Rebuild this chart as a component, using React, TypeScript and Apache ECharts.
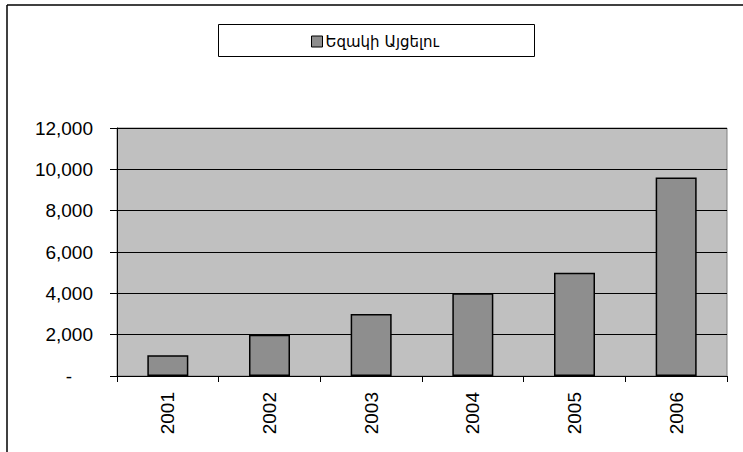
import React, { useEffect, useRef } from "react";
import * as echarts from "echarts";

const categories = ["2001", "2002", "2003", "2004", "2005", "2006"];
const visitors = [1000, 2000, 3000, 4000, 5000, 9600];
const seriesName = "Եզակի Այցելու";
const yMax = 12000;
const yInterval = 2000;

export default function App() {
  const ref = useRef<HTMLDivElement>(null);
  useEffect(() => {
    document.body.style.margin = "0";
    const chart = echarts.init(ref.current!, null, { renderer: "svg" });
    chart.setOption({
      animation: false,
      backgroundColor: "#ffffff",
      textStyle: { fontFamily: "Liberation Sans, Arial, sans-serif" },
      graphic: [
        { type: "line", shape: { x1: 7, y1: 5, x2: 743, y2: 5 }, style: { stroke: "#000", lineWidth: 1.5 } },
        { type: "line", shape: { x1: 7, y1: 5, x2: 7, y2: 452 }, style: { stroke: "#000", lineWidth: 1.5 } },
        {
          type: "rect",
          shape: { x: 218.5, y: 24.5, width: 316, height: 32 },
          style: { fill: "#fff", stroke: "#000", lineWidth: 1 },
          z: 0,
        },
      ],
      legend: {
        data: [seriesName],
        left: 311,
        top: 34,
        icon: "rect",
        itemWidth: 11,
        itemHeight: 11,
        itemGap: 4,
        padding: 0,
        z: 10,
        textStyle: {
          fontFamily: "DejaVu Sans, Noto Sans, sans-serif",
          fontSize: 15,
          color: "#000",
          padding: [0, 0, 0, -2],
        },
        itemStyle: { borderColor: "#000", borderWidth: 1 },
      },
      grid: {
        left: 117,
        right: 16,
        top: 128,
        bottom: 76,
        show: true,
        backgroundColor: "#c0c0c0",
        borderColor: "#808080",
        borderWidth: 1,
      },
      xAxis: {
        type: "category",
        data: categories,
        axisLine: { lineStyle: { color: "#000", width: 1 } },
        axisTick: { show: true, alignWithLabel: false, length: 6, lineStyle: { color: "#000" } },
        axisLabel: {
          rotate: 90,
          margin: 16,
          fontSize: 19,
          color: "#000",
          fontFamily: "Liberation Sans, Arial, sans-serif",
        },
      },
      yAxis: {
        type: "value",
        min: 0,
        max: yMax,
        interval: yInterval,
        axisLine: { show: true, lineStyle: { color: "#000", width: 1 } },
        axisTick: { show: true, length: 7, lineStyle: { color: "#000" } },
        splitLine: { show: true, lineStyle: { color: "#000", width: 1 } },
        axisLabel: {
          margin: 24,
          fontSize: 19,
          color: "#000",
          fontFamily: "Liberation Sans, Arial, sans-serif",
          formatter: (v: number) => (v === 0 ? "{d|-}" : v.toLocaleString("en-US")),
          rich: { d: { fontSize: 19, padding: [0, 21, 0, 0], color: "#000" } },
        },
      },
      series: [
        {
          name: seriesName,
          type: "bar",
          data: visitors,
          barWidth: 41,
          itemStyle: { color: "#8e8e8e", borderColor: "#000", borderWidth: 1.5 },
        },
      ],
    });
    return () => chart.dispose();
  }, []);
  return <div ref={ref} style={{ width: 743, height: 452 }} />;
}
